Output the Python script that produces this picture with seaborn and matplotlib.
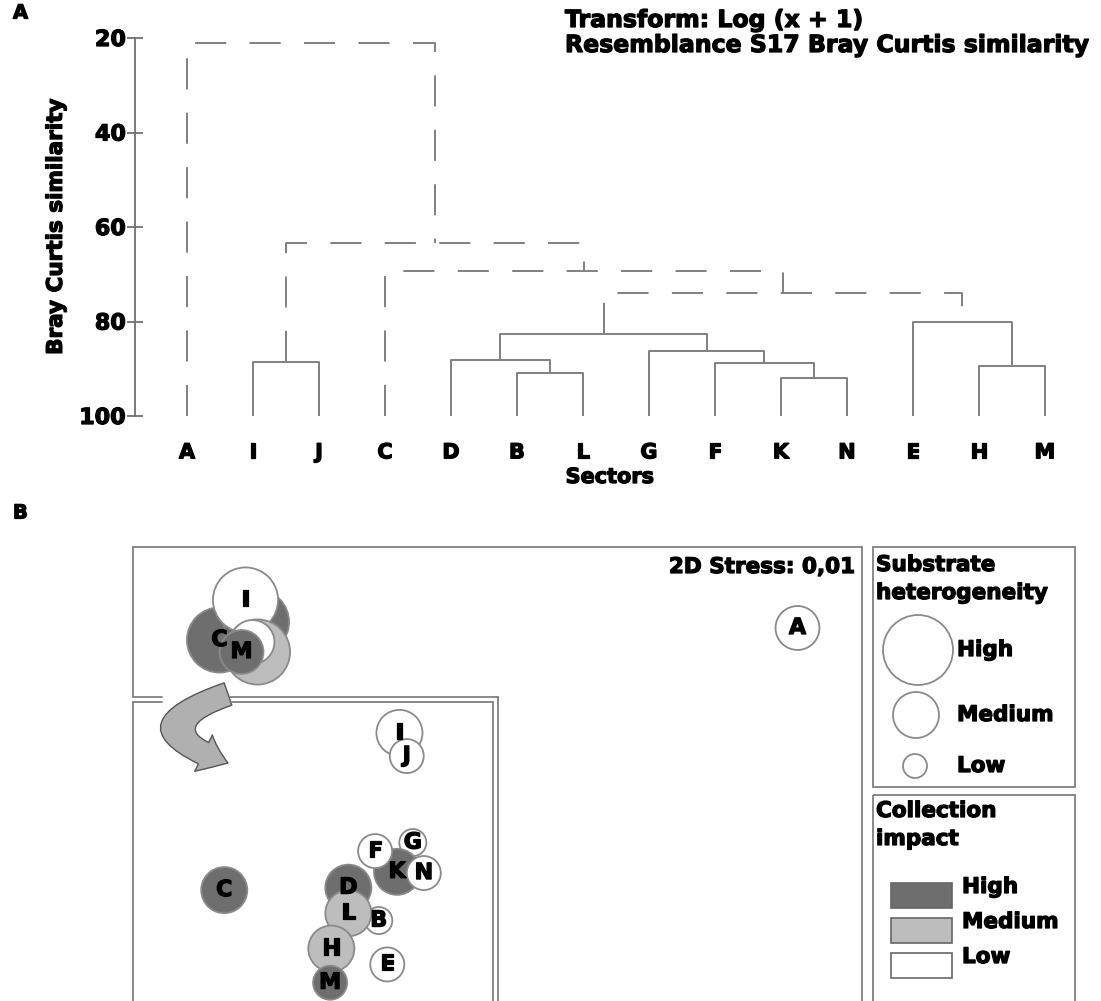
import numpy as np
import pandas as pd
import matplotlib
matplotlib.use("Agg")
import matplotlib.pyplot as plt
import matplotlib.patheffects as pe
import seaborn as sns
from matplotlib.patches import Circle, Rectangle, FancyArrowPatch

# ---- Panel A: cluster analysis (group average, Bray-Curtis) ----
sectors = ['A', 'I', 'J', 'C', 'D', 'B', 'L', 'G', 'F', 'K', 'N', 'E', 'H', 'M']
merge_left = ['B', 'D', 'K', 'F', 'G', 'DBL', 'H', 'E', 'DBLGFKN', 'C', 'I', 'IJ', 'A']
merge_right = ['L', 'BL', 'N', 'KN', 'FKN', 'GFKN', 'M', 'HM', 'EHM',
               'DBLGFKNEHM', 'J', 'CDBLGFKNEHM', 'IJCDBLGFKNEHM']
merge_sim = [90.8, 88.1, 92.0, 88.8, 86.2, 82.7, 89.5, 80.0, 74.0, 69.4, 88.5, 63.3, 21.1]
merge_signif = [True, True, True, True, True, True, True, True, False, False, True, False, False]
sim_ticks = [20, 40, 60, 80, 100]

# ---- Panel B: nMDS ordination ----
# full ordination (A far from the rest)
full_names = ['C', 'D', 'I', 'H', 'J', 'M', 'A']
full_x = [-2.78, -2.41, -2.52, -2.40, -2.45, -2.56, 3.00]
full_y = [-0.18, 0.00, 0.22, -0.30, -0.20, -0.30, -0.06]
full_het = ['High', 'High', 'High', 'High', 'Medium', 'Medium', 'Medium']
full_imp = ['High', 'High', 'Low', 'Medium', 'Low', 'High', 'Low']
full_text = ['C', '', 'I', '', '', 'M', 'A']

# ordination without A (zoomed inset)
zoom_names = ['C', 'I', 'J', 'G', 'K', 'F', 'N', 'D', 'B', 'L', 'H', 'E', 'M']
zoom_x = [-0.75, 0.69, 0.75, 0.80, 0.67, 0.49, 0.89, 0.27, 0.52, 0.27, 0.13, 0.59, 0.12]
zoom_y = [-0.33, 0.96, 0.77, 0.06, -0.18, -0.01, -0.19, -0.31, -0.58, -0.52, -0.81, -0.94, -1.09]
zoom_het = ['High', 'High', 'Medium', 'Low', 'High', 'Medium', 'Medium', 'High', 'Low',
            'High', 'High', 'Medium', 'Medium']
zoom_imp = ['High', 'Low', 'Low', 'Low', 'High', 'Low', 'Low', 'High', 'Low',
            'Medium', 'Medium', 'Low', 'High']

levels = ['High', 'Medium', 'Low']
impact_colors = {'High': '#6e6e6e', 'Medium': '#bdbdbd', 'Low': '#ffffff'}
edge_grey = '#8a8a8a'

W, H = 1101, 1001
sns.set_theme(style='white')
plt.rcParams['font.family'] = ['DejaVu Sans']
plt.rcParams['font.weight'] = 'bold'
plt.rcParams['text.color'] = 'black'
plt.rcParams['axes.labelcolor'] = 'black'
plt.rcParams['xtick.labelcolor'] = 'black'
plt.rcParams['ytick.labelcolor'] = 'black'
fig = plt.figure(figsize=(W / 100, H / 100), dpi=100)

# overlay axes in pixel units for frames, arrow and legends
over = fig.add_axes([0, 0, 1, 1], zorder=0)
over.set_xlim(0, W)
over.set_ylim(H, 0)
over.axis('off')

# ---------- dendrogram ----------
pos = {s: float(i) for i, s in enumerate(sectors)}
hgt = {s: 100.0 for s in sectors}
rows = []
for k, (a, b, h, sig) in enumerate(zip(merge_left, merge_right, merge_sim, merge_signif)):
    xa, xb = pos[a], pos[b]
    for x, y in [(xa, hgt[a]), (xa, h), (xb, h), (xb, hgt[b])]:
        rows.append({'link': k, 'x': x, 'y': y, 'kind': 'solid' if sig else 'dashed'})
    pos[a + b] = (xa + xb) / 2
    hgt[a + b] = h
links = pd.DataFrame(rows)

axA = fig.add_axes([135 / W, 1 - 416 / H, 960 / W, 378 / H], zorder=2)
axA.patch.set_alpha(0)
sns.lineplot(data=links, x='x', y='y', units='link', estimator=None, sort=False,
             style='kind', dashes={'solid': '', 'dashed': (16, 12)},
             color='#808080', linewidth=1.4, legend=False, ax=axA)
axA.set_xlim(-0.788, 13.76)
axA.set_ylim(100, 20)
axA.set_yticks(sim_ticks)
axA.set_xticks(range(len(sectors)))
axA.set_xticklabels(sectors, fontsize=15, fontweight='bold')
axA.tick_params(axis='x', length=0, pad=19)
axA.tick_params(axis='y', direction='inout', length=11, width=1.3, color='#707070',
                labelsize=16, pad=1, left=True)
for lab in axA.get_yticklabels():
    lab.set_fontweight('bold')
for side in ['top', 'right', 'bottom']:
    axA.spines[side].set_visible(False)
axA.spines['left'].set_color('#707070')
axA.spines['left'].set_linewidth(1.3)
axA.set_xlabel('')
axA.set_ylabel('Bray Curtis similarity', fontsize=15.5, fontweight='bold')
axA.yaxis.set_label_coords(-0.072, 0.5)
fig.text(610 / W, 1 - 477 / H, 'Sectors', ha='center', va='center', fontsize=15, fontweight='bold')
fig.text(565 / W, 1 - 20 / H, 'Transform: Log (x + 1)', ha='left', va='center', fontsize=17, fontweight='bold')
fig.text(565 / W, 1 - 45 / H, 'Resemblance S17 Bray Curtis similarity', ha='left', va='center',
         fontsize=17, fontweight='bold')
fig.text(13 / W, 1 - 13 / H, 'A', ha='left', va='center', fontsize=14, fontweight='bold')
fig.text(13 / W, 1 - 513 / H, 'B', ha='left', va='center', fontsize=14, fontweight='bold')

# ---------- frames (pixel overlay) ----------
fc = '#808080'
flw = 1.3
over.plot([133, 862], [547, 547], color=fc, lw=flw)
over.plot([862, 862], [547, 1001], color=fc, lw=flw)
over.plot([133, 133], [547, 697], color=fc, lw=flw)
over.plot([133, 162], [697, 697], color=fc, lw=flw)
over.plot([230, 498], [697, 697], color=fc, lw=flw)
over.plot([133, 162], [702, 702], color=fc, lw=flw)
over.plot([230, 493], [702, 702], color=fc, lw=flw)
over.plot([133, 133], [702, 1001], color=fc, lw=flw)
over.plot([498, 498], [697, 1001], color=fc, lw=flw)
over.plot([493, 493], [702, 1001], color=fc, lw=flw)

arrow = FancyArrowPatch((228, 694), (228, 763), connectionstyle='arc3,rad=1.45',
                        arrowstyle='simple,head_width=1.45,head_length=0.95,tail_width=0.85',
                        mutation_scale=20, facecolor='#b0b0b0', edgecolor='#555555',
                        lw=1.0, shrinkA=0, shrinkB=0)
over.add_patch(arrow)

# ---------- full ordination ----------
full = pd.DataFrame({'x': full_x, 'y': full_y, 'het': full_het, 'imp': full_imp})
axF = fig.add_axes([133 / W, 1 - 697 / H, 729 / W, 150 / H], zorder=2)
axF.patch.set_alpha(0)
sns.scatterplot(data=full, x='x', y='y', hue='imp', size='het', palette=impact_colors,
                sizes={'High': 2200, 'Medium': 1000, 'Low': 400}, hue_order=levels,
                size_order=levels, edgecolor=edge_grey, linewidth=1.3, legend=False,
                ax=axF, clip_on=False)
axF.set_xlim(-3.645, 3.645)
axF.set_ylim(-0.75, 0.75)
axF.axis('off')
for x, y, t in zip(full_x, full_y, full_text):
    if t:
        axF.text(x, y, t, ha='center', va='center', fontsize=16, fontweight='bold', zorder=5)
axF.text(3.575, 0.55, '2D Stress: 0,01', ha='right', va='center', fontsize=15.5, fontweight='bold')

# ---------- zoomed ordination ----------
zoom = pd.DataFrame({'x': zoom_x, 'y': zoom_y, 'het': zoom_het, 'imp': zoom_imp})
axZ = fig.add_axes([133 / W, 0, 365 / W, 301 / H], zorder=2)
axZ.patch.set_alpha(0)
sns.scatterplot(data=zoom, x='x', y='y', hue='imp', size='het', palette=impact_colors,
                sizes={'High': 1100, 'Medium': 600, 'Low': 380}, hue_order=levels,
                size_order=levels, edgecolor=edge_grey, linewidth=1.3, legend=False,
                ax=axZ, clip_on=False)
axZ.set_xlim(-1.5, 1.5)
axZ.set_ylim(-1.24, 1.23)
axZ.axis('off')
for x, y, t in zip(zoom_x, zoom_y, zoom_names):
    axZ.text(x, y, t, ha='center', va='center', fontsize=16, fontweight='bold', zorder=5)

# ---------- legends ----------
over.add_patch(Rectangle((873, 547), 202, 240, fill=False, edgecolor=fc, lw=flw))
over.add_patch(Rectangle((873, 795), 202, 230, fill=False, edgecolor=fc, lw=flw))
over.text(876, 565, 'Substrate', ha='left', va='center', fontsize=15.5, fontweight='bold')
over.text(876, 593, 'heterogeneity', ha='left', va='center', fontsize=15.5, fontweight='bold')
for lev, cy, r, cx in zip(levels, [650, 715, 766], [35, 23, 12], [918, 916, 915]):
    over.add_patch(Circle((cx, cy), r, facecolor='white', edgecolor=edge_grey, lw=1.3))
    over.text(957, cy, lev, ha='left', va='center', fontsize=15.5, fontweight='bold')
over.text(876, 811, 'Collection', ha='left', va='center', fontsize=15.5, fontweight='bold')
over.text(876, 839, 'impact', ha='left', va='center', fontsize=15.5, fontweight='bold')
for lev, cy in zip(levels, [895, 930, 965]):
    over.add_patch(Rectangle((891, cy - 12), 61, 25, facecolor=impact_colors[lev],
                             edgecolor='#666666', lw=1.2))
    over.text(962, cy - 8, lev, ha='left', va='center', fontsize=15.5, fontweight='bold')

# heavier strokes to mimic the black display face
for t in fig.findobj(matplotlib.text.Text):
    if t.get_text():
        t.set_path_effects([pe.withStroke(linewidth=0.9, foreground='black')])

fig.savefig('out.png', dpi=100)
